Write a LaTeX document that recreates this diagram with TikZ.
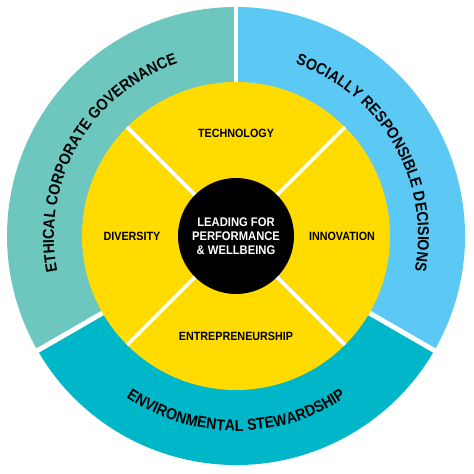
\documentclass[tikz,border=0pt]{standalone}
\usepackage{fontspec}
\setmainfont{Liberation Sans}[FakeStretch=0.9]
\usepackage{tikz}
\usetikzlibrary{decorations.text}

\definecolor{govteal}{HTML}{6DC7BF}
\definecolor{socblue}{HTML}{5BC9F3}
\definecolor{envcyan}{HTML}{00B6C9}
\definecolor{coreyellow}{HTML}{FFDB00}

\begin{document}
\begin{tikzpicture}[scale=0.02,
    pillar/.style={font=\bfseries\fontsize{6.8}{8}\selectfont, inner sep=0pt},
    ringtext/.style={decorate, decoration={text along path, text align=center, text color=black}}]
  \useasboundingbox (-236,-238) rectangle (238,236);
  % --- Outer ring (3 segments, 120° each) ---
  \fill[govteal] (0,0) -- (90:229) arc[start angle=90, end angle=210, radius=229] -- cycle;
  \fill[envcyan] (0,0) -- (210:229) arc[start angle=210, end angle=330, radius=229] -- cycle;
  \fill[socblue] (0,0) -- (330:229) arc[start angle=330, end angle=450, radius=229] -- cycle;
  \foreach \a in {90,210,330} {
    \draw[white, line width=2.8pt] (\a:140) -- (\a:236);
  }
  % --- Yellow core with 4 sectors ---
  \fill[coreyellow] (0,0) circle[radius=154];
  \foreach \a in {45,135,225,315} {
    \draw[white, line width=2.2pt] (\a:40) -- (\a:154);
  }
  % --- Centre ---
  \node[circle, fill=black, text=white, minimum size=2.32cm, inner sep=0pt, align=center,
        font=\bfseries\fontsize{7.1}{8}\selectfont] (lead) at (0,0)
        {LEADING FOR\\PERFORMANCE\\\& WELLBEING};
  % --- Sector labels ---
  \node[pillar] (tech) at (90:103) {TECHNOLOGY};
  \node[pillar] (div) at (180:104) {DIVERSITY};
  \node[pillar] (innov) at (0:106) {INNOVATION};
  \node[pillar] (entre) at (270:100) {ENTREPRENEURSHIP};
  % --- Ring labels ---
  \path[ringtext, decoration={text={|\bfseries\fontsize{9}{11}\selectfont|ETHICAL CORPORATE GOVERNANCE}}]
    (210:182) arc[start angle=210, end angle=90, radius=182];
  \path[ringtext, decoration={text={|\bfseries\fontsize{9}{11}\selectfont|SOCIALLY RESPONSIBLE DECISIONS}}]
    (90:182) arc[start angle=90, end angle=-30, radius=182];
  \path[ringtext, decoration={text={|\bfseries\fontsize{9}{11}\selectfont|ENVIRONMENTAL STEWARDSHIP}}]
    (210:195) arc[start angle=210, end angle=330, radius=195];
\end{tikzpicture}
\end{document}
